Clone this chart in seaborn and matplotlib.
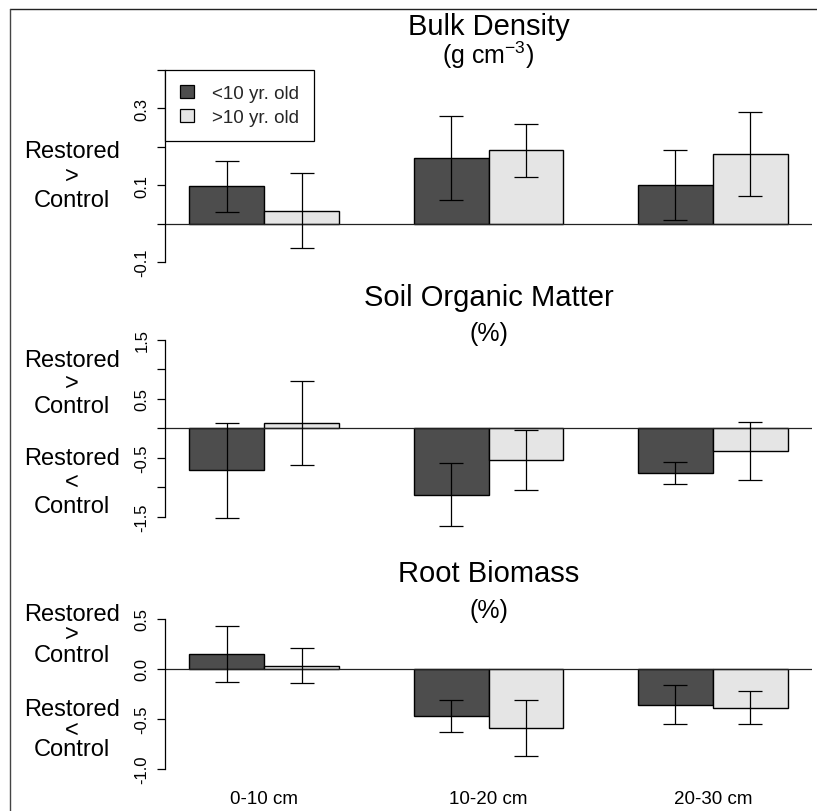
import numpy as np
import pandas as pd
import matplotlib
matplotlib.use("Agg")
import matplotlib.pyplot as plt
import seaborn as sns
from matplotlib.lines import Line2D

# ---------------- data ----------------
depths = ["0-10 cm", "10-20 cm", "20-30 cm"]
ages = ["<10 yr. old", ">10 yr. old"]

bd_young = [0.097, 0.170, 0.101]
bd_young_err = [0.066, 0.109, 0.091]
bd_old = [0.034, 0.191, 0.181]
bd_old_err = [0.098, 0.069, 0.110]

som_young = [-0.715, -1.125, -0.757]
som_young_err = [0.800, 0.530, 0.185]
som_old = [0.093, -0.545, -0.383]
som_old_err = [0.717, 0.510, 0.496]

rb_young = [0.150, -0.468, -0.357]
rb_young_err = [0.277, 0.158, 0.197]
rb_old = [0.035, -0.590, -0.388]
rb_old_err = [0.172, 0.280, 0.165]

titles = ["Bulk Density", "Soil Organic Matter", "Root Biomass"]
units = [r"(g cm$^{\mathregular{-3}}$)", "(%)", "(%)"]

bd_ticks = [-0.1, 0.0, 0.1, 0.2, 0.3, 0.4]
bd_ticklabels = ["-0.1", "", "0.1", "", "0.3", ""]
som_ticks = [-1.5, -1.0, -0.5, 0.0, 0.5, 1.0, 1.5]
som_ticklabels = ["-1.5", "", "-0.5", "", "0.5", "", "1.5"]
rb_ticks = [-1.0, -0.5, 0.0, 0.5]
rb_ticklabels = ["-1.0", "-0.5", "0.0", "0.5"]

# ---------------- style ----------------
sns.set_theme(style="white")
plt.rcParams["font.family"] = ["Liberation Sans", "DejaVu Sans"]
plt.rcParams["mathtext.fontset"] = "custom"
plt.rcParams["mathtext.rm"] = "Liberation Sans"
plt.rcParams["mathtext.it"] = "Liberation Sans"
plt.rcParams["mathtext.default"] = "regular"

DARK = "#4d4d4d"
LIGHT = "#e5e5e5"
W, H = 817, 812
fig = plt.figure(figsize=(W / 100, H / 100), dpi=100)
fig.patch.set_facecolor("white")

def px_axes(top, bottom, left=165, right=812):
    return fig.add_axes([left / W, 1 - bottom / H, (right - left) / W, (bottom - top) / H])

def ftext(x, y, s, **kw):
    return fig.text(x / W, 1 - y / H, s, **kw)

panels = [
    dict(young=bd_young, yerr=bd_young_err, old=bd_old, oerr=bd_old_err,
         ylim=(-0.1, 0.4), ticks=bd_ticks, labels=bd_ticklabels, top=71, bottom=263,
         title_y=35, unit_y=64,
         side=[(158, 182.5, 207, ">")]),
    dict(young=som_young, yerr=som_young_err, old=som_old, oerr=som_old_err,
         ylim=(-1.5, 1.5), ticks=som_ticks, labels=som_ticklabels, top=341, bottom=517.7,
         title_y=306.5, unit_y=341,
         side=[(367, 390, 413, ">"), (465, 489, 513, "<")]),
    dict(young=rb_young, yerr=rb_young_err, old=rb_old, oerr=rb_old_err,
         ylim=(-1.0, 0.5), ticks=rb_ticks, labels=rb_ticklabels, top=620, bottom=770,
         title_y=582.5, unit_y=618,
         side=[(621, 641, 661.5, ">"), (716.5, 736.5, 756.5, "<")]),
]

for i, p in enumerate(panels):
    ax = px_axes(p["top"], p["bottom"])
    df = pd.DataFrame({
        "depth": depths * 2,
        "age": [ages[0]] * 3 + [ages[1]] * 3,
        "value": list(p["young"]) + list(p["old"]),
    })
    sns.barplot(data=df, x="depth", y="value", hue="age", hue_order=ages,
                order=depths, palette=[DARK, LIGHT], width=2 / 3, errorbar=None,
                edgecolor="black", linewidth=1.0, saturation=1, ax=ax,
                legend=(i == 0))
    xpos = np.arange(len(depths))
    for off, vals, errs in [(-1 / 6, p["young"], p["yerr"]), (1 / 6, p["old"], p["oerr"])]:
        eb = ax.errorbar(xpos + off, vals, yerr=errs, fmt="none", ecolor="black",
                         elinewidth=0.9, capsize=8.6, capthick=0.9, zorder=5)
        for art in eb.lines[1] + eb.lines[2]:
            art.set_clip_on(False)
    ax.axhline(0, color="#222222", lw=0.9, zorder=1)
    ax.set_xlim(-0.4425, 2.4425)
    ax.set_ylim(*p["ylim"])
    ax.set_yticks(p["ticks"])
    ax.set_yticklabels(p["labels"], rotation=90, va="center")
    ax.tick_params(axis="y", length=6, width=0.9, pad=5, labelsize=12, color="black",
                   left=True, labelcolor="black")
    for s in ["top", "right", "bottom"]:
        ax.spines[s].set_visible(False)
    ax.spines["left"].set_color("black")
    ax.spines["left"].set_linewidth(0.9)
    ax.spines["left"].set_bounds(p["ticks"][0], p["ticks"][-1])
    ax.set_xlabel("")
    ax.set_ylabel("")
    ax.set_facecolor("none")
    if i == 2:
        ax.set_xticks(xpos)
        ax.set_xticklabels(depths)
        ax.tick_params(axis="x", length=0, pad=15, labelsize=13.5, labelcolor="black")
    else:
        ax.set_xticks([])
    if i == 0:
        h, l = ax.get_legend_handles_labels()
        leg = ax.legend(h, l, loc="upper left", bbox_to_anchor=(0, 1), borderaxespad=0,
                        frameon=True, fancybox=False, fontsize=13.5, handlelength=0.75,
                        handleheight=0.7, handletextpad=0.95, borderpad=0.8,
                        labelspacing=0.35, framealpha=1)
        leg.get_frame().set_edgecolor("black")
        leg.get_frame().set_linewidth(0.9)
        for hd in leg.legend_handles:
            hd.set_edgecolor("black")
            hd.set_linewidth(0.9)

    # titles
    ftext(488.5, p["title_y"], titles[i], ha="center", va="baseline", fontsize=21, color="black")
    ftext(488.5, p["unit_y"], units[i], ha="center", va="baseline", fontsize=18, color="black")
    # side labels
    for (y1, y2, y3, sym) in p["side"]:
        ftext(72, y1, "Restored", ha="center", va="baseline", fontsize=17, color="black")
        ftext(72, y2, sym, ha="center", va="baseline", fontsize=17, color="black")
        ftext(72, y3, "Control", ha="center", va="baseline", fontsize=17, color="black")

# figure border (top and left)
fig.add_artist(Line2D([10 / W, 1.0], [1 - 9.5 / H, 1 - 9.5 / H], color="#222222", lw=1.0,
                      transform=fig.transFigure))
fig.add_artist(Line2D([10 / W, 10 / W], [1 - 9.5 / H, 0.0], color="#444444", lw=1.0,
                      transform=fig.transFigure))

fig.savefig("out.png", dpi=100, facecolor="white")
